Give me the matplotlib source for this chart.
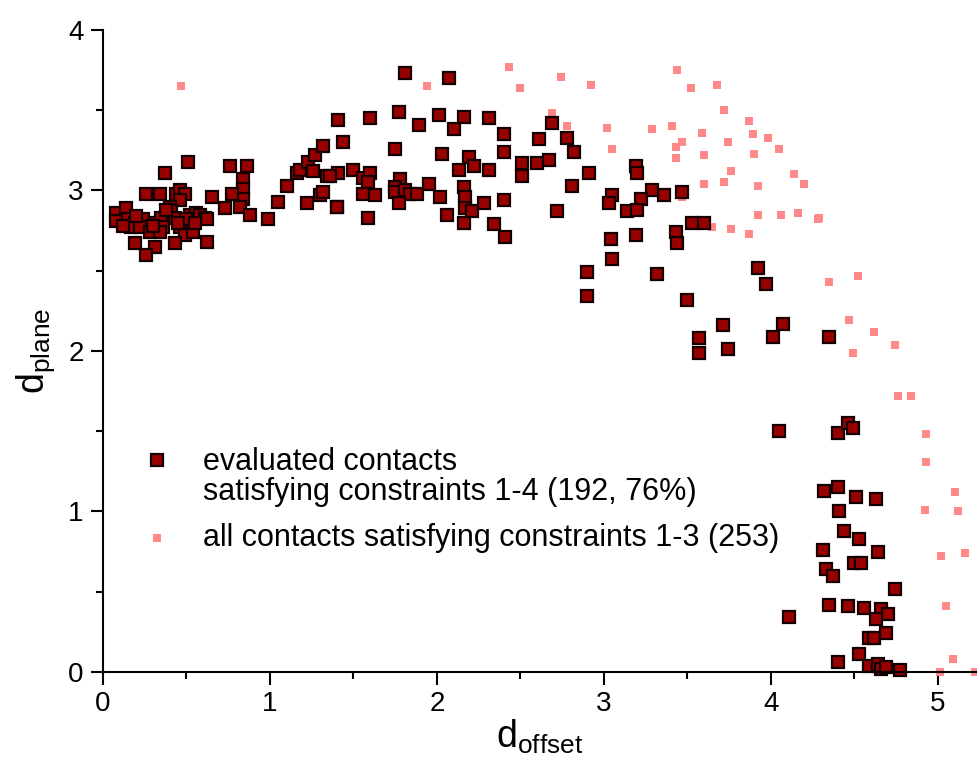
import matplotlib
matplotlib.use("Agg")
import matplotlib.pyplot as plt
from matplotlib.ticker import MultipleLocator

plt.rcParams['font.family'] = ['Liberation Sans', 'DejaVu Sans']
plt.rcParams['mathtext.fontset'] = 'custom'
plt.rcParams['mathtext.rm'] = 'Liberation Sans'

# contacts satisfying constraints 1-4 (dark squares)
eval_x = [0.51, 0.37, 0.76, 0.86, 0.84, 0.84, 0.84, 0.82, 0.88, 0.77, 0.73, 0.65,
          0.99, 1.05, 1.10, 1.16, 1.18, 1.23, 1.27, 1.32, 1.26, 1.34, 1.22, 1.30,
          1.32, 1.40,
          0.26, 0.34, 0.44, 0.46, 0.49, 0.46, 0.40, 0.41, 0.08, 0.14, 0.08, 0.15,
          0.19, 0.24, 0.17, 0.22, 0.28, 0.31, 0.35, 0.36, 0.34, 0.43, 0.46, 0.49,
          0.54, 0.52, 0.56, 0.58, 0.61, 0.62, 0.50, 0.19, 0.31, 0.26, 0.43, 0.62,
          0.30, 0.20, 0.45, 0.55, 0.12, 0.38,
          1.81, 2.07, 1.41, 1.60, 1.77, 1.89, 2.01, 2.16, 2.10, 2.31, 2.40, 2.61,
          2.69, 2.78, 2.82, 1.44, 1.75, 2.03, 2.40, 2.19, 2.22, 2.13, 2.31, 2.51,
          2.60, 2.67, 2.51, 2.81, 1.41, 1.36, 1.50, 1.56, 1.60, 1.59, 1.56, 1.63,
          1.40, 1.59, 1.78, 1.75, 1.75, 1.81, 1.84, 1.88, 1.77, 1.95, 2.02, 2.06,
          2.16, 2.17, 2.17, 2.21, 2.16, 2.28, 2.40, 2.34, 2.41, 2.72,
          2.91, 3.19, 3.20, 3.29, 3.36, 3.47, 3.22, 3.05, 3.03, 3.14, 3.20, 3.53,
          3.60, 3.04, 3.19, 3.43, 3.44, 3.05,
          2.90, 2.90, 3.32, 3.50, 3.92, 3.97, 3.71, 3.57, 3.57, 3.74, 4.07, 4.01,
          4.35, 4.05, 4.40, 4.46, 4.49,
          4.32, 4.40, 4.51, 4.63, 4.41, 4.44, 4.53, 4.31, 4.64, 4.33, 4.37, 4.50,
          4.54, 4.74, 4.11, 4.35, 4.46, 4.56, 4.66, 4.70, 4.63, 4.59, 4.62, 4.69,
          4.53, 4.40, 4.59, 4.64, 4.66, 4.69, 4.77]
eval_y = [3.18, 3.11, 3.15, 3.15, 3.07, 3.01, 2.95, 2.90, 2.85, 2.98, 2.89, 2.96,
          2.82, 2.93, 3.03, 3.11, 3.13, 3.18, 3.22, 3.28, 3.12, 3.09, 2.92, 2.97,
          2.99, 2.90,
          2.98, 2.98, 2.98, 3.00, 2.98, 2.94, 2.90, 2.87, 2.86, 2.89, 2.81, 2.82,
          2.80, 2.82, 2.77, 2.77, 2.74, 2.80, 2.83, 2.77, 2.74, 2.83, 2.77, 2.72,
          2.74, 2.85, 2.86, 2.85, 2.83, 2.82, 2.82, 2.67, 2.65, 2.60, 2.67, 2.68,
          2.78, 2.84, 2.80, 2.80, 2.78, 2.88,
          3.73, 3.70, 3.44, 3.45, 3.49, 3.41, 3.47, 3.46, 3.38, 3.45, 3.35, 3.32,
          3.42, 3.33, 3.24, 3.30, 3.26, 3.23, 3.24, 3.21, 3.15, 3.13, 3.13, 3.17,
          3.17, 3.19, 3.09, 3.03, 3.11, 3.09, 3.13, 3.08, 3.11, 3.05, 2.98, 2.97,
          2.90, 2.83, 3.07, 3.02, 2.99, 3.00, 2.98, 2.98, 2.92, 3.04, 2.96, 2.85,
          3.02, 2.96, 2.89, 2.87, 2.80, 2.92, 2.94, 2.79, 2.71, 2.87,
          3.11, 3.15, 3.11, 3.00, 2.97, 2.99, 2.95, 2.97, 2.92, 2.87, 2.88, 2.80,
          2.80, 2.70, 2.72, 2.74, 2.67, 2.57,
          2.49, 2.34, 2.48, 2.32, 2.52, 2.42, 2.16, 2.08, 1.99, 2.01, 2.17, 2.09,
          2.09, 1.50, 1.49, 1.55, 1.52,
          1.13, 1.15, 1.09, 1.08, 1.00, 0.88, 0.83, 0.76, 0.75, 0.64, 0.60, 0.68,
          0.68, 0.52, 0.34, 0.42, 0.41, 0.40, 0.39, 0.36, 0.33, 0.21, 0.21, 0.24,
          0.11, 0.06, 0.04, 0.05, 0.02, 0.03, 0.01]

# remaining contacts satisfying only constraints 1-3 (pink squares)
other_x = [0.47, 2.43, 2.74, 2.50, 1.94, 2.69, 2.78,
           3.44, 2.92, 3.52, 3.68, 3.72, 3.87, 3.02, 3.29, 3.41, 3.59, 3.89, 3.98,
           3.47, 3.43, 3.74, 4.05, 3.05, 3.90, 3.43, 3.60, 3.76, 4.14, 4.20, 3.60,
           3.72, 3.92, 3.47, 3.92, 4.06, 4.16, 4.29, 4.28, 3.65, 3.76, 3.87,
           4.35, 4.52, 4.47, 4.62, 4.74, 4.49,
           4.76, 4.84, 4.93, 4.93, 5.10, 5.12, 4.92,
           5.02, 5.16, 5.05, 5.09, 5.01, 5.22]
other_y = [3.65, 3.77, 3.71, 3.64, 3.65, 3.48, 3.40,
           3.75, 3.66, 3.64, 3.66, 3.50, 3.43, 3.39, 3.38, 3.40, 3.36, 3.35, 3.33,
           3.30, 3.27, 3.30, 3.26, 3.26, 3.23, 3.20, 3.22, 3.12, 3.10, 3.04, 3.04,
           3.05, 3.03, 2.96, 2.85, 2.85, 2.86, 2.83, 2.82, 2.77, 2.76, 2.73,
           2.43, 2.47, 2.19, 2.12, 2.04, 1.99,
           1.72, 1.72, 1.48, 1.31, 1.12, 1.00, 1.01,
           0.72, 0.74, 0.41, 0.08, 0.00, 0.00]

all_x = eval_x + other_x
all_y = eval_y + other_y

legend_lines = ['evaluated contacts',
                'satisfying constraints 1-4 (192, 76%)',
                'all contacts satisfying constraints 1-3 (253)']

fig = plt.figure(figsize=(9.77, 7.65), dpi=100)
ax = fig.add_axes([0.1054, 0.1216, 0.8946, 0.8392])

pink = '#ff8888'
dark = '#980000'
ax.plot(all_x, all_y, 's', ms=5.8, color=pink, mec=pink, mew=0, clip_on=False)
ax.plot(eval_x, eval_y, 's', ms=8.0, color=dark, mec='#140000', mew=1.6,
        clip_on=False)

ax.set_xlim(0, 5.234)
ax.set_ylim(0, 4)
ax.spines['top'].set_visible(False)
ax.spines['right'].set_visible(False)
for s in ['left', 'bottom']:
    ax.spines[s].set_linewidth(1.5)

ax.xaxis.set_major_locator(MultipleLocator(1))
ax.xaxis.set_minor_locator(MultipleLocator(0.5))
ax.yaxis.set_major_locator(MultipleLocator(1))
ax.yaxis.set_minor_locator(MultipleLocator(0.5))
ax.tick_params(which='major', length=9, width=1.5, labelsize=20, direction='out', pad=5)
ax.tick_params(which='minor', length=5, width=1.5, direction='out')

ax.set_xlabel(r'$\mathregular{d_{offset}}$', fontsize=27, labelpad=0)
ax.set_ylabel(r'$\mathregular{d_{plane}}$', fontsize=27, labelpad=8)

# legend drawn by hand so the marker sits on the first text line
ax.plot([0.0618], [0.330], 's', ms=8.0, color=dark, mec='#140000', mew=1.6,
        transform=ax.transAxes, clip_on=False)
ax.plot([0.0618], [0.209], 's', ms=5.8, color=pink, mec=pink, mew=0,
        transform=ax.transAxes, clip_on=False)
for txt, yy in zip(legend_lines, [0.327, 0.280, 0.209]):
    ax.text(0.1144, yy, txt, transform=ax.transAxes, fontsize=22,
            va='center', ha='left')

fig.savefig('out.png', dpi=100)
